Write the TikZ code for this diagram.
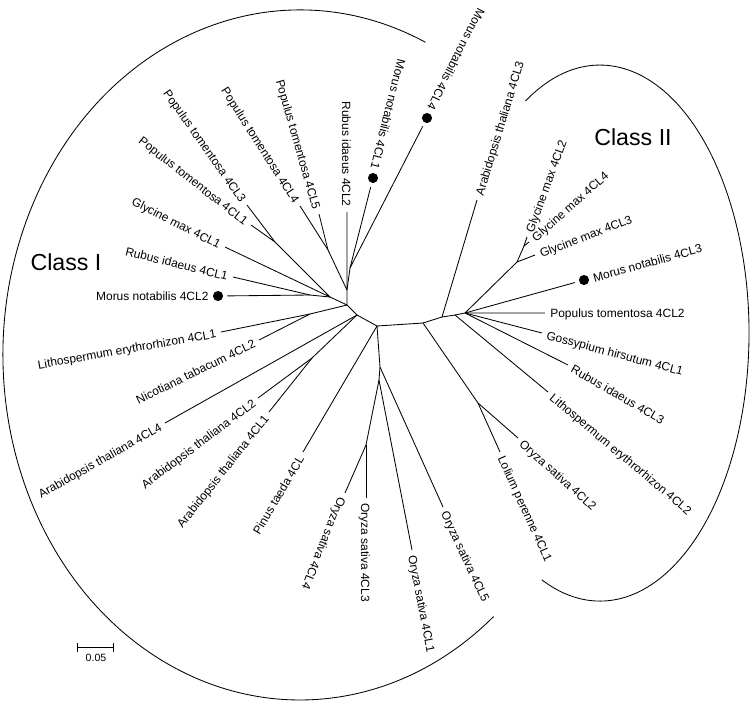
\documentclass[tikz,border=0pt]{standalone}
\usepackage{fontspec}
\setmainfont{Liberation Sans}

\begin{document}
\begin{tikzpicture}[x=0.025cm,y=-0.025cm,line width=0.6pt,line join=round,
    leaf/.style={font=\fontsize{8.5}{10}\selectfont,inner xsep=3.5pt,inner ysep=0pt,text height=0.72em,text depth=0.02em},
    leafdot/.style={leaf,inner xsep=6.5pt},
    bead/.style={circle,fill,inner sep=0pt,minimum size=7.2pt,outer sep=3pt},
    clade/.style={font=\fontsize{16.5}{20}\selectfont},
    scalelab/.style={font=\fontsize{7.5}{9}\selectfont}]
    \useasboundingbox (0,0) rectangle (750,705);
    \coordinate (A) at (347,305);
    \coordinate (R) at (347,290);
    \coordinate (M) at (350,268);
    \coordinate (P45) at (328,250);
    \coordinate (J) at (330,297);
    \coordinate (P31) at (275,242);
    \coordinate (K) at (310,295);
    \coordinate (N) at (310,314);
    \coordinate (B) at (357,315);
    \coordinate (Ar12) at (312,358);
    \coordinate (O) at (377,326);
    \coordinate (O2) at (380,367);
    \coordinate (O3) at (379,380);
    \coordinate (O4) at (366,445);
    \coordinate (L) at (423,323);
    \coordinate (Ly) at (478,403);
    \coordinate (Q) at (442,317);
    \coordinate (S) at (455,315);
    \coordinate (H) at (465,313);
    \coordinate (G1) at (517,262);
    \coordinate (G2) at (524,246);
    \coordinate (pt3) at (247,205);
    \coordinate (pt1) at (251,225);
    \coordinate (gm1) at (225,247);
    \coordinate (ri1) at (233,277);
    \coordinate (le1) at (221,332);
    \coordinate (nt2) at (259,340);
    \coordinate (at4) at (165,423);
    \coordinate (at2) at (258,398);
    \coordinate (at1) at (269,412);
    \coordinate (ptd) at (303,452);
    \coordinate (pt4) at (300,206);
    \coordinate (pt5) at (319,214);
    \coordinate (ri2) at (347,212);
    \coordinate (os4) at (345,493);
    \coordinate (os3) at (366,498);
    \coordinate (os1) at (412,550);
    \coordinate (os5) at (443,507);
    \coordinate (lp1) at (500,452);
    \coordinate (os2) at (518,438);
    \coordinate (le2) at (548,392);
    \coordinate (ri3) at (568,365);
    \coordinate (gh1) at (542,333);
    \coordinate (pt2) at (545,313);
    \coordinate (gm3) at (535,255);
    \coordinate (gm4) at (529,242);
    \coordinate (gm2) at (527,237);
    \coordinate (at3) at (477,200);
    \node[bead] (mn2) at (218,296) {};
    \node[bead] (mn1) at (373,178) {};
    \node[bead] (mn4) at (427,118) {};
    \node[bead] (mn3) at (584,280) {};

    \draw (pt3) -- (P31) -- (pt1);
    \draw (P31) -- (J) -- (gm1);
    \draw (J) -- (K) -- (ri1);
    \draw (K) -- (mn2);
    \draw (J) -- (A) -- (R) -- (ri2);
    \draw (R) -- (M) -- (mn1);
    \draw (M) -- (mn4);
    \draw (R) -- (P45) -- (pt4);
    \draw (P45) -- (pt5);
    \draw (A) -- (N) -- (le1);
    \draw (N) -- (nt2);
    \draw (A) -- (B) -- (at4);
    \draw (B) -- (Ar12) -- (at2);
    \draw (Ar12) -- (at1);
    \draw (B) -- (O) -- (ptd);
    \draw (O) -- (O2) -- (os5);
    \draw (O2) -- (O3) -- (os1);
    \draw (O3) -- (O4) -- (os4);
    \draw (O4) -- (os3);
    \draw (O) -- (L) -- (Ly) -- (lp1);
    \draw (Ly) -- (os2);
    \draw (L) -- (Q) -- (at3);
    \draw (Q) -- (S) -- (le2);
    \draw (S) -- (H) -- (pt2);
    \draw (H) -- (gh1);
    \draw (H) -- (ri3);
    \draw (H) -- (mn3);
    \draw (H) -- (G1) -- (gm3);
    \draw (G1) -- (G2) -- (gm4);
    \draw (G2) -- (gm2);

    \node[leaf,anchor=east,rotate=-55] (lpt3) at (pt3) {Populus tomentosa 4CL3};
    \node[leaf,anchor=east,rotate=-38] (lpt1) at (pt1) {Populus tomentosa 4CL1};
    \node[leaf,anchor=east,rotate=-27] (lgm1) at (gm1) {Glycine max 4CL1};
    \node[leaf,anchor=east,rotate=-14] (lri1) at (ri1) {Rubus idaeus 4CL1};
    \node[leafdot,anchor=east] (lmn2) at (mn2) {Morus notabilis 4CL2};
    \node[leaf,anchor=east,rotate=10] (lle1) at (le1) {Lithospermum erythrorhizon 4CL1};
    \node[leaf,anchor=east,rotate=26] (lnt2) at (nt2) {Nicotiana tabacum 4CL2};
    \node[leaf,anchor=east,rotate=29.5] (lat4) at (at4) {Arabidopsis thaliana 4CL4};
    \node[leaf,anchor=east,rotate=37] (lat2) at (at2) {Arabidopsis thaliana 4CL2};
    \node[leaf,anchor=east,rotate=51.5] (lat1) at (at1) {Arabidopsis thaliana 4CL1};
    \node[leaf,anchor=east,rotate=59.5] (lptd) at (ptd) {Pinus taeda 4CL};
    \node[leaf,anchor=east,rotate=-57.5] (lpt4) at (pt4) {Populus tomentosa 4CL4};
    \node[leaf,anchor=east,rotate=-74] (lpt5) at (pt5) {Populus tomentosa 4CL5};
    \node[leaf,anchor=east,rotate=-90] (lri2) at (ri2) {Rubus idaeus 4CL2};
    \node[leafdot,anchor=east,rotate=-104] (lmn1) at (mn1) {Morus notabilis 4CL1};
    \node[leafdot,anchor=east,rotate=-117] (lmn4) at (mn4) {Morus notabilis 4CL4};
    \node[leaf,anchor=west,rotate=-112] (los4) at (os4) {Oryza sativa 4CL4};
    \node[leaf,anchor=west,rotate=-90] (los3) at (os3) {Oryza sativa 4CL3};
    \node[leaf,anchor=west,rotate=-79] (los1) at (os1) {Oryza sativa 4CL1};
    \node[leaf,anchor=west,rotate=-65] (los5) at (os5) {Oryza sativa 4CL5};
    \node[leaf,anchor=west,rotate=-65.5] (llp1) at (lp1) {Lolium perenne 4CL1};
    \node[leaf,anchor=west,rotate=-42] (los2) at (os2) {Oryza sativa 4CL2};
    \node[leaf,anchor=west,rotate=-40] (lle2) at (le2) {Lithospermum erythrorhizon 4CL2};
    \node[leaf,anchor=west,rotate=-30] (lri3) at (ri3) {Rubus idaeus 4CL3};
    \node[leaf,anchor=west,rotate=-15] (lgh1) at (gh1) {Gossypium hirsutum 4CL1};
    \node[leaf,anchor=west] (lpt2) at (pt2) {Populus tomentosa 4CL2};
    \node[leafdot,anchor=west,rotate=15.5] (lmn3) at (mn3) {Morus notabilis 4CL3};
    \node[leaf,anchor=west,rotate=21] (lgm3) at (gm3) {Glycine max 4CL3};
    \node[leaf,anchor=west,rotate=41.5] (lgm4) at (gm4) {Glycine max 4CL4};
    \node[leaf,anchor=west,rotate=70] (lgm2) at (gm2) {Glycine max 4CL2};
    \node[leaf,anchor=west,rotate=73] (lat3) at (at3) {Arabidopsis thaliana 4CL3};

    \draw (425.5,42.3) arc[start angle=-65, end angle=-310.7, x radius=297, y radius=345];
    \draw (525.5,101) arc[start angle=-120, end angle=113, x radius=149, y radius=268];
    \node[clade] (c1) at (66,262) {Class I};
    \node[clade] (c2) at (633,137) {Class II};

    \coordinate (s0) at (77,647);
    \coordinate (s1) at (114,647);
    \draw[|-|] (s0) -- (s1);
    \node[scalelab] (sbl) at (96,658) {0.05};
\end{tikzpicture}
\end{document}
